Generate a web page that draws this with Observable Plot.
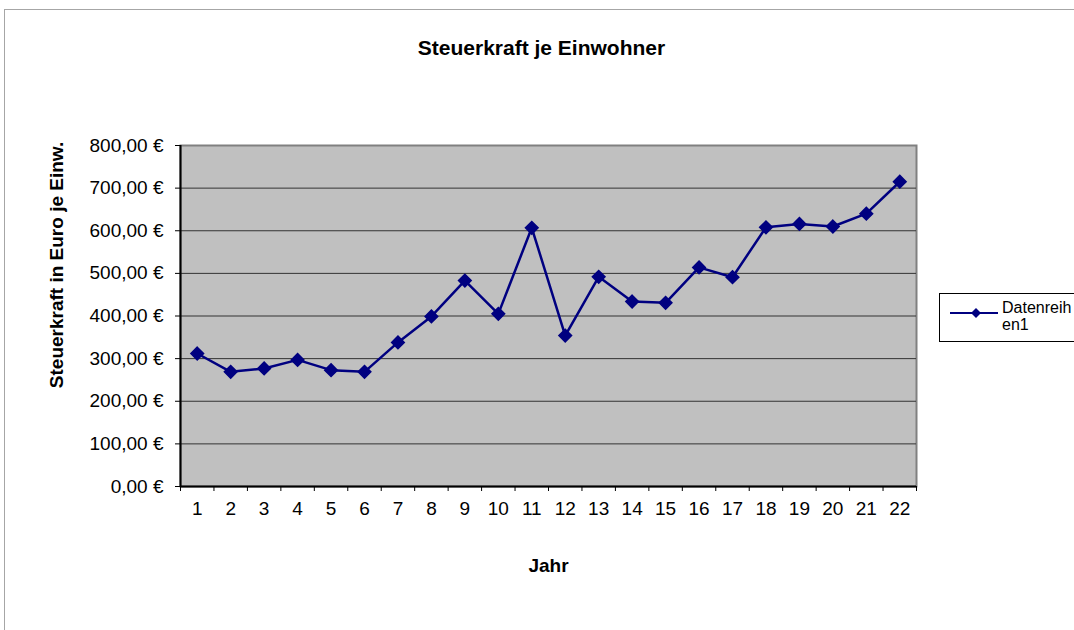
<!DOCTYPE html>
<html><head><meta charset="utf-8">
<script src="https://cdn.jsdelivr.net/npm/d3@7"></script>
<script src="https://cdn.jsdelivr.net/npm/@observablehq/plot@0.6"></script>
<style>
body{margin:0;background:#fff;font-family:"Liberation Sans",Arial,sans-serif;}
#wrap{position:relative;width:1074px;height:630px;overflow:hidden;}
#border{position:absolute;left:4px;top:9px;right:-2px;bottom:-2px;border:1px solid #a6a6a6;}
#chart{position:absolute;left:0;top:0;}
#legend{position:absolute;left:939px;top:293px;width:150px;height:47px;border:1px solid #000;background:#fff;font-size:16px;}
#legend svg{position:absolute;left:10px;top:13px;}
#legend .lab{position:absolute;left:62px;top:5px;line-height:17px;}
</style></head><body>
<div id="wrap"><div id="border"></div><div id="chart"></div>
<div id="legend"><svg width="50" height="12"><line x1="0" y1="6" x2="48" y2="6" stroke="#000080" stroke-width="2"/><path d="M26 1 L31 6 L26 11 L21 6 Z" fill="#000080"/></svg><div class="lab" id="leglab"></div></div>
</div>
<script>
const years = [1,2,3,4,5,6,7,8,9,10,11,12,13,14,15,16,17,18,19,20,21,22];
const values = [312,269,277,297,273,269,338,399,483,405,607,354,492,434,431,514,491,608,616,610,640,715];
const yTicks = [0,100,200,300,400,500,600,700,800];
const titleText = "Steuerkraft je Einwohner";
const yLabelText = "Steuerkraft in Euro je Einw.";
const xLabelText = "Jahr";
const seriesName = ["Datenreih", "en1"];

document.getElementById("leglab").innerHTML = seriesName.join("<br>");

const data = years.map((y, i) => ({year: y, value: values[i]}));
const fmt = d => d.toFixed(2).replace(".", ",") + " €";
const boundaries = years.map(d => d - 0.5).concat([years[years.length - 1] + 0.5]);

const chart = Plot.plot({
  width: 1074, height: 630,
  marginLeft: 180, marginRight: 158, marginTop: 145, marginBottom: 144,
  style: {fontFamily: '"Liberation Sans", Arial, sans-serif', fontSize: "19px", color: "#000", background: "transparent"},
  x: {type: "linear", domain: [0.5, 22.5]},
  y: {domain: [0, 800]},
  marks: [
    Plot.frame({fill: "#c0c0c0", stroke: "#808080", strokeWidth: 2}),
    Plot.gridY(yTicks.slice(1, -1), {stroke: "#333", strokeOpacity: 1}),
    Plot.ruleX([0.5], {stroke: "#000", strokeWidth: 2}),
    Plot.ruleY([0], {stroke: "#000", strokeWidth: 2}),
    Plot.axisY(yTicks, {tickSize: 5, tickPadding: 12, tickFormat: fmt, label: null, fontSize: 19}),
    Plot.axisX(boundaries, {tickSize: 5, tickFormat: () => "", label: null}),
    Plot.axisX(years, {tickSize: 0, tickPadding: 15, label: null, fontSize: 19}),
    Plot.line(data, {x: "year", y: "value", stroke: "#000080", strokeWidth: 2.5}),
    Plot.dot(data, {x: "year", y: "value", symbol: "diamond2", r: 5.7, fill: "#000080", stroke: "#000080"}),
    Plot.text([titleText], {frameAnchor: "top", lineAnchor: "middle", dx: -7, dy: -97, fontWeight: "bold", fontSize: 21}),
    Plot.text([yLabelText], {frameAnchor: "left", textAnchor: "middle", lineAnchor: "middle", dx: -124, dy: -51, rotate: -90, fontWeight: "bold", fontSize: 19}),
    Plot.text([xLabelText], {frameAnchor: "bottom", lineAnchor: "middle", dy: 79, fontWeight: "bold", fontSize: 19})
  ]
});
document.getElementById("chart").appendChild(chart);
</script>
</body></html>
